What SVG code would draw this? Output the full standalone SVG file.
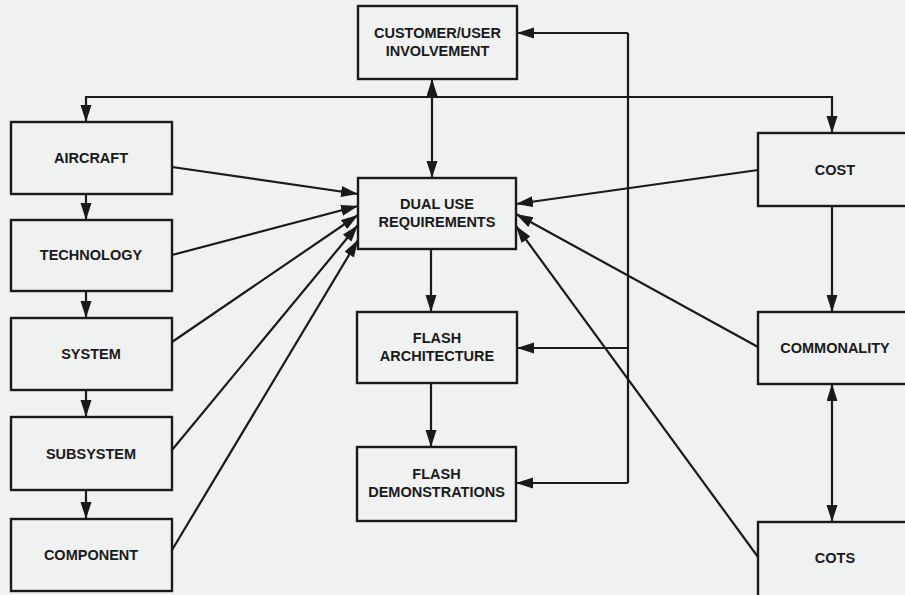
<svg xmlns="http://www.w3.org/2000/svg" width="905" height="595" viewBox="0 0 905 595">
<style>
.box{fill:none;stroke:#1a1a1a;stroke-width:2.4}
.lbl{font-family:"Liberation Sans",Arial,sans-serif;font-weight:bold;font-size:14.5px;fill:#1a1a1a;text-anchor:middle}
.c{fill:none;stroke:#1a1a1a;stroke-width:2.2}
.a{marker-end:url(#ah)}
.d{marker-start:url(#ah);marker-end:url(#ah)}
</style>
<defs>
<marker id="ah" markerUnits="userSpaceOnUse" markerWidth="18" markerHeight="12" refX="17" refY="5.5" orient="auto-start-reverse">
<path d="M0,0 L17,5.5 L0,11 z" fill="#1a1a1a"/>
</marker>
</defs>
<rect width="905" height="595" fill="#f0f1f1"/>
<g id="connectors">
<path class="c d" d="M86,122 V97 H832 V133"/>
<line class="c d" x1="432" y1="79" x2="432" y2="178"/>
<line class="c a" x1="86" y1="194" x2="86" y2="220"/>
<line class="c a" x1="86" y1="291" x2="86" y2="318"/>
<line class="c a" x1="86" y1="390" x2="86" y2="417"/>
<line class="c a" x1="86" y1="490" x2="86" y2="519"/>
<line class="c" x1="628" y1="33" x2="628" y2="483"/>
<line class="c a" x1="628" y1="33" x2="517" y2="33"/>
<line class="c a" x1="628" y1="348" x2="517" y2="348"/>
<line class="c a" x1="628" y1="483" x2="516" y2="483"/>
<line class="c a" x1="431" y1="249" x2="431" y2="312"/>
<line class="c a" x1="431" y1="383" x2="431" y2="447"/>
<line class="c a" x1="832" y1="206" x2="832" y2="312"/>
<line class="c d" x1="832" y1="384" x2="832" y2="522"/>
<line class="c a" x1="172" y1="167" x2="358" y2="194"/>
<line class="c a" x1="172" y1="255" x2="358" y2="206"/>
<line class="c a" x1="172" y1="342" x2="358" y2="215"/>
<line class="c a" x1="172" y1="450" x2="358" y2="225"/>
<line class="c a" x1="172" y1="550" x2="358" y2="240"/>
<line class="c a" x1="758" y1="170" x2="516" y2="204"/>
<line class="c a" x1="758" y1="347" x2="516" y2="214"/>
<line class="c a" x1="758" y1="557" x2="516" y2="226"/>
</g>
<g id="customer"><rect class="box" x="358" y="6" width="159" height="73"/><text class="lbl" x="437.5" y="38">CUSTOMER/USER</text><text class="lbl" x="437.5" y="56">INVOLVEMENT</text></g>
<g id="dualuse"><rect class="box" x="358" y="178" width="158" height="71"/><text class="lbl" x="437" y="209">DUAL USE</text><text class="lbl" x="437" y="227">REQUIREMENTS</text></g>
<g id="architecture"><rect class="box" x="357" y="312" width="160" height="71"/><text class="lbl" x="437" y="343">FLASH</text><text class="lbl" x="437" y="361">ARCHITECTURE</text></g>
<g id="demonstrations"><rect class="box" x="357" y="447" width="159" height="74"/><text class="lbl" x="436.5" y="479">FLASH</text><text class="lbl" x="436.5" y="497">DEMONSTRATIONS</text></g>
<g id="aircraft"><rect class="box" x="11" y="122" width="161" height="72"/><text class="lbl" x="91" y="163">AIRCRAFT</text></g>
<g id="technology"><rect class="box" x="11" y="220" width="161" height="71"/><text class="lbl" x="91" y="260">TECHNOLOGY</text></g>
<g id="system"><rect class="box" x="11" y="318" width="161" height="72"/><text class="lbl" x="91" y="359">SYSTEM</text></g>
<g id="subsystem"><rect class="box" x="11" y="417" width="161" height="73"/><text class="lbl" x="91" y="459">SUBSYSTEM</text></g>
<g id="component"><rect class="box" x="11" y="519" width="161" height="72"/><text class="lbl" x="91" y="560">COMPONENT</text></g>
<g id="cost"><rect class="box" x="758" y="133" width="160" height="73"/><text class="lbl" x="835" y="175">COST</text></g>
<g id="commonality"><rect class="box" x="758" y="312" width="160" height="72"/><text class="lbl" x="835" y="353">COMMONALITY</text></g>
<g id="cots"><rect class="box" x="758" y="522" width="160" height="80"/><text class="lbl" x="835" y="563">COTS</text></g>
</svg>
